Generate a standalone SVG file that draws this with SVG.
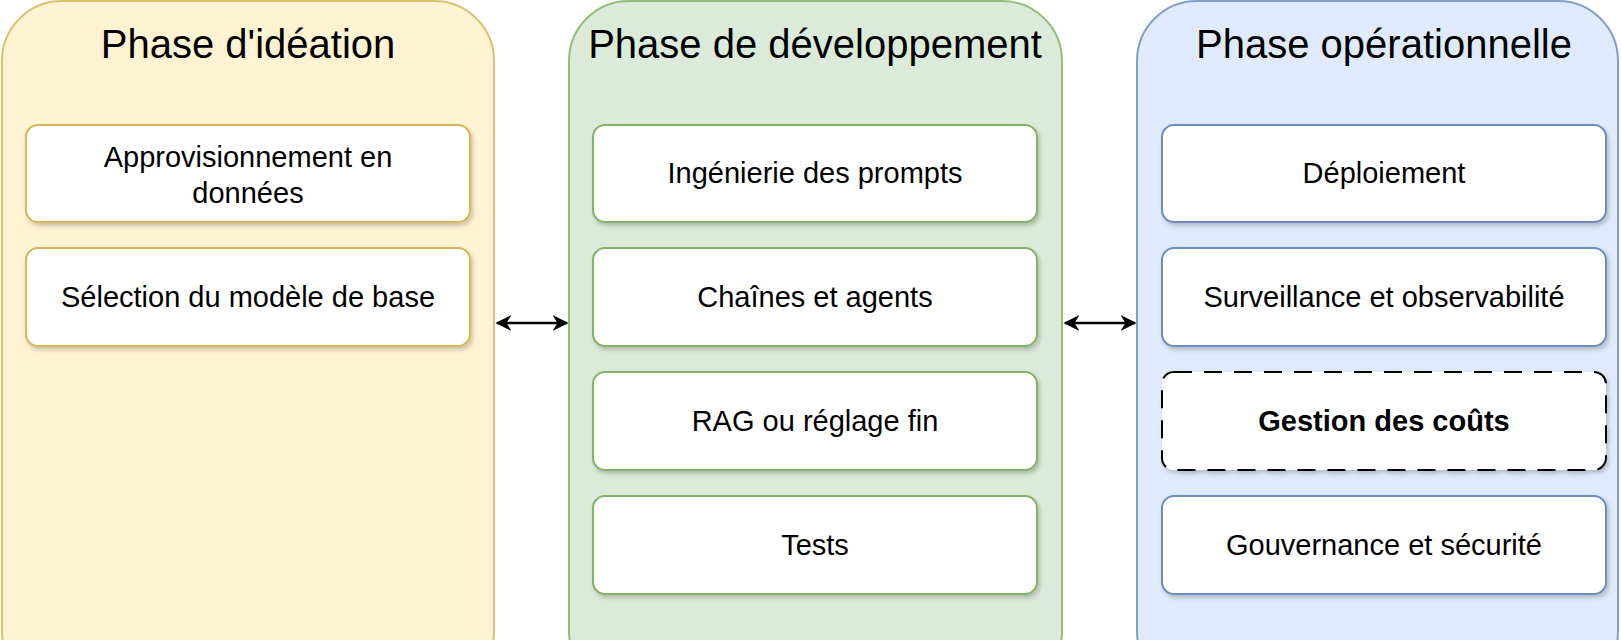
<svg xmlns="http://www.w3.org/2000/svg" width="1621" height="640" viewBox="0 0 1621 640">
<defs>
<marker id="ah" viewBox="0 0 10 10" refX="9" refY="5" markerWidth="16" markerHeight="16" orient="auto-start-reverse" markerUnits="userSpaceOnUse"><path d="M0,0 L10,5 L0,10 L3,5 z" fill="#000"/></marker>
<filter id="sh" x="-10%" y="-10%" width="120%" height="130%"><feDropShadow dx="2" dy="3" stdDeviation="2" flood-opacity="0.2"/></filter>
</defs>
<style>
.t{font-family:"Liberation Sans",Arial,sans-serif;font-size:40px;text-anchor:middle;fill:#000}
.l{font-family:"Liberation Sans",Arial,sans-serif;font-size:29px;text-anchor:middle;fill:#000}
.b{fill:#fff;stroke-width:2;filter:url(#sh)}
.y{stroke:#d6b656}.g{stroke:#82b366}.u{stroke:#6c8ebf}
</style>
<rect width="1621" height="640" fill="#fff"/>
<g id="p1"><rect x="2" y="1" width="492" height="690" rx="60" fill="#fff2cc" stroke="#d6b656" stroke-width="2" opacity="0.85"/><text class="t" x="248" y="58">Phase d'idéation</text>
<rect class="b y" x="26" y="125" width="444" height="97" rx="12"/><text class="l" x="248" y="167">Approvisionnement en</text><text class="l" x="248" y="203">données</text>
<rect class="b y" x="26" y="248" width="444" height="98" rx="12"/><text class="l" x="248" y="307">Sélection du modèle de base</text></g>
<g id="p2"><rect x="569" y="1" width="493" height="690" rx="60" fill="#d5e8d4" stroke="#82b366" stroke-width="2" opacity="0.85"/><text class="t" x="815" y="58">Phase de développement</text>
<rect class="b g" x="593" y="125" width="444" height="97" rx="12"/><text class="l" x="815" y="183">Ingénierie des prompts</text>
<rect class="b g" x="593" y="248" width="444" height="98" rx="12"/><text class="l" x="815" y="307">Chaînes et agents</text>
<rect class="b g" x="593" y="372" width="444" height="98" rx="12"/><text class="l" x="815" y="431">RAG ou réglage fin</text>
<rect class="b g" x="593" y="496" width="444" height="98" rx="12"/><text class="l" x="815" y="555">Tests</text></g>
<g id="p3"><rect x="1137" y="1" width="481" height="690" rx="60" fill="#dae8fc" stroke="#6c8ebf" stroke-width="2" opacity="0.85"/><text class="t" x="1384" y="58">Phase opérationnelle</text>
<rect class="b u" x="1162" y="125" width="444" height="97" rx="12"/><text class="l" x="1384" y="183">Déploiement</text>
<rect class="b u" x="1162" y="248" width="444" height="98" rx="12"/><text class="l" x="1384" y="307">Surveillance et observabilité</text>
<rect class="b" x="1162" y="372" width="444" height="98" rx="12" stroke="#000" stroke-width="4" stroke-dasharray="18,12"/><text class="l" x="1384" y="431" font-weight="bold">Gestion des coûts</text>
<rect class="b u" x="1162" y="496" width="444" height="98" rx="12"/><text class="l" x="1384" y="555">Gouvernance et sécurité</text></g>
<g id="connectors" stroke="#000" stroke-width="2.5">
<line x1="497" y1="323" x2="567" y2="323" marker-start="url(#ah)" marker-end="url(#ah)"/>
<line x1="1065" y1="323" x2="1135" y2="323" marker-start="url(#ah)" marker-end="url(#ah)"/>
</g>
</svg>
